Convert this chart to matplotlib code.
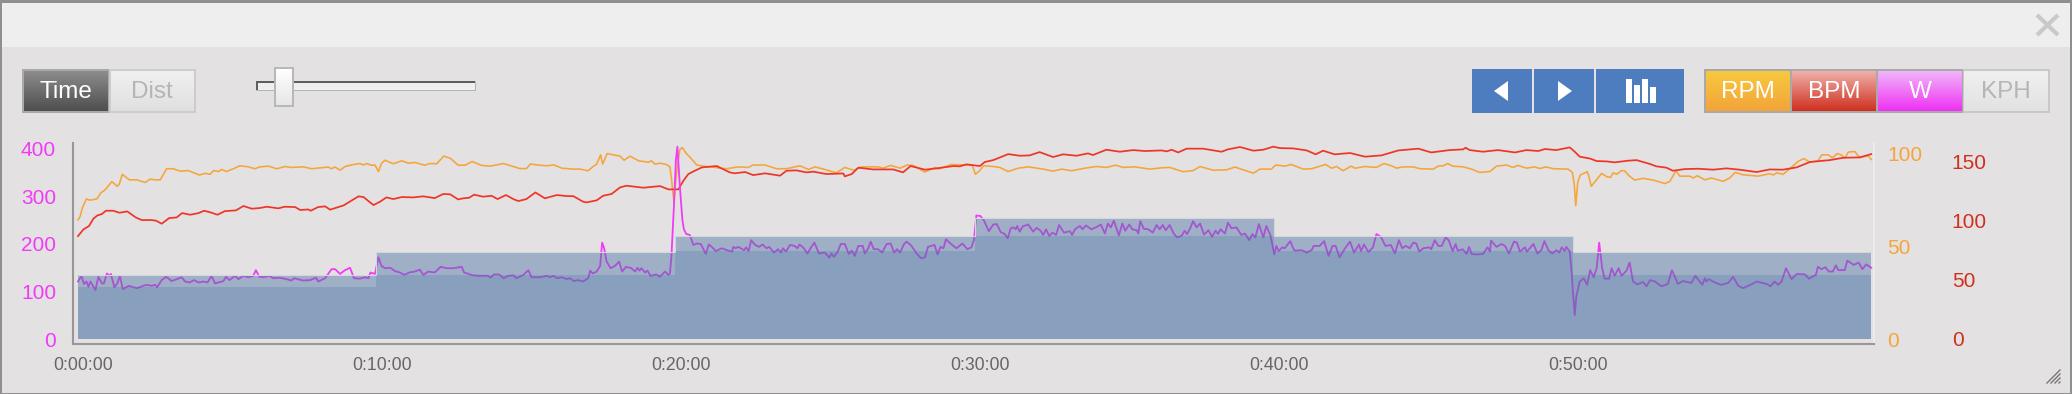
import matplotlib
import matplotlib.pyplot as plt
import numpy as np
from matplotlib.colors import LinearSegmentedColormap
from matplotlib.patches import Polygon, Rectangle
from matplotlib.transforms import ScaledTranslation

matplotlib.use("Agg")

plt.rcParams["font.family"] = ["Liberation Sans", "DejaVu Sans"]

WIDTH = 2072
HEIGHT = 394

# (seconds, value)
WATTS = [
    (0, 121), (7, 133), (12, 116), (17, 121), (21, 110), (25, 121), (35, 103), (41, 131), (48, 117), (52, 117),
    (58, 138), (63, 133), (66, 137), (73, 109), (79, 117), (84, 133), (90, 105), (102, 112), (118, 107), (137, 114),
    (148, 112), (155, 114), (159, 109), (168, 124), (177, 131), (188, 122), (208, 130), (215, 121), (224, 119),
    (233, 124), (242, 119), (252, 121), (260, 119), (268, 133), (275, 117), (292, 122), (297, 131), (304, 124),
    (315, 133), (322, 126), (332, 133), (342, 130), (352, 133), (357, 145), (364, 131), (372, 130), (384, 133),
    (392, 128), (405, 129), (419, 126), (428, 123), (434, 128), (452, 123), (466, 124), (478, 129), (482, 121),
    (496, 128), (509, 147), (516, 147), (526, 137), (536, 145), (546, 150), (554, 128), (566, 127), (576, 130),
    (583, 128), (587, 140), (596, 137), (603, 172), (609, 154), (616, 149), (627, 150), (636, 143), (646, 140),
    (655, 135), (665, 140), (676, 142), (686, 146), (693, 135), (703, 142), (716, 140), (728, 152), (740, 149),
    (753, 149), (770, 152), (775, 140), (793, 134), (807, 133), (823, 133), (828, 129), (835, 136), (845, 136),
    (854, 128), (864, 133), (874, 134), (880, 128), (894, 135), (904, 145), (910, 130), (927, 130), (942, 133),
    (947, 130), (954, 133), (962, 128), (971, 130), (981, 126), (987, 128), (995, 122), (1004, 124), (1014, 121),
    (1024, 128), (1028, 144), (1033, 138), (1041, 142), (1048, 154), (1052, 203), (1056, 191), (1061, 163),
    (1069, 149), (1078, 154), (1086, 163), (1092, 142), (1100, 152), (1111, 149), (1118, 142), (1123, 150),
    (1127, 144), (1131, 149), (1138, 140), (1143, 144), (1149, 133), (1161, 136), (1168, 131), (1178, 142),
    (1185, 135), (1188, 138), (1191, 173), (1196, 279), (1200, 377), (1203, 405), (1208, 321), (1213, 251),
    (1216, 231), (1221, 221), (1228, 219), (1235, 198), (1242, 201), (1250, 200), (1260, 179), (1266, 199),
    (1272, 194), (1280, 185), (1292, 191), (1305, 186), (1313, 184), (1315, 194), (1320, 191), (1325, 194),
    (1337, 187), (1341, 193), (1346, 185), (1351, 208), (1359, 198), (1367, 194), (1374, 199), (1382, 191),
    (1387, 194), (1397, 182), (1405, 189), (1411, 182), (1415, 191), (1421, 184), (1429, 198), (1438, 196),
    (1444, 191), (1448, 199), (1456, 192), (1464, 180), (1472, 194), (1478, 203), (1487, 180), (1499, 182),
    (1508, 171), (1512, 180), (1517, 173), (1524, 182), (1531, 200), (1539, 200), (1547, 179), (1553, 186),
    (1559, 175), (1566, 196), (1575, 196), (1579, 180), (1586, 191), (1591, 205), (1597, 189), (1606, 189),
    (1614, 182), (1623, 200), (1631, 201), (1638, 182), (1644, 189), (1650, 182), (1658, 200), (1663, 205),
    (1673, 196), (1683, 180), (1692, 170), (1700, 172), (1706, 194), (1719, 198), (1725, 178), (1731, 194),
    (1737, 191), (1742, 210), (1751, 201), (1763, 191), (1775, 201), (1785, 189), (1793, 193), (1798, 208),
    (1803, 260), (1811, 259), (1818, 250), (1828, 227), (1837, 241), (1844, 242), (1852, 225), (1860, 221),
    (1866, 212), (1872, 233), (1877, 235), (1882, 231), (1885, 238), (1890, 226), (1896, 237), (1907, 241),
    (1917, 226), (1924, 234), (1932, 228), (1937, 219), (1943, 231), (1949, 217), (1956, 224), (1963, 219),
    (1969, 240), (1979, 224), (1991, 227), (1995, 219), (2001, 231), (2011, 238), (2016, 231), (2023, 239),
    (2034, 231), (2043, 235), (2053, 241), (2061, 222), (2067, 243), (2073, 235), (2079, 249), (2089, 218),
    (2096, 243), (2102, 228), (2110, 241), (2116, 231), (2125, 229), (2128, 222), (2132, 248), (2139, 232),
    (2148, 231), (2157, 224), (2165, 240), (2171, 231), (2177, 240), (2183, 229), (2191, 240), (2199, 222),
    (2206, 214), (2215, 217), (2221, 228), (2226, 221), (2233, 235), (2238, 248), (2245, 235), (2252, 243),
    (2260, 220), (2269, 229), (2276, 215), (2283, 228), (2288, 221), (2293, 231), (2302, 222), (2308, 245),
    (2315, 233), (2325, 235), (2335, 219), (2342, 222), (2351, 208), (2357, 221), (2363, 214), (2370, 242),
    (2379, 214), (2385, 238), (2393, 219), (2401, 178), (2405, 196), (2410, 185), (2417, 193), (2422, 191),
    (2433, 206), (2439, 191), (2442, 186), (2456, 187), (2466, 182), (2476, 187), (2480, 196), (2492, 196),
    (2501, 206), (2510, 175), (2518, 196), (2524, 196), (2532, 172), (2543, 191), (2553, 205), (2561, 182),
    (2571, 199), (2575, 185), (2581, 199), (2590, 183), (2599, 193), (2606, 221), (2615, 215), (2624, 196),
    (2635, 198), (2643, 180), (2651, 208), (2658, 191), (2665, 196), (2673, 191), (2680, 203), (2686, 201),
    (2692, 184), (2700, 191), (2712, 193), (2716, 189), (2723, 208), (2730, 196), (2737, 196), (2745, 214),
    (2751, 208), (2759, 185), (2765, 200), (2769, 186), (2779, 189), (2787, 179), (2792, 194), (2797, 179),
    (2807, 178), (2820, 179), (2829, 193), (2834, 184), (2836, 207), (2847, 194), (2857, 200), (2864, 196),
    (2872, 180), (2882, 205), (2888, 203), (2894, 184), (2904, 193), (2908, 184), (2921, 200), (2929, 180),
    (2937, 187), (2943, 206), (2951, 187), (2959, 180), (2967, 187), (2973, 182), (2978, 193), (2984, 185),
    (2987, 194), (2994, 184), (2998, 138), (3001, 89), (3004, 50), (3007, 89), (3014, 121), (3022, 128),
    (3029, 114), (3035, 145), (3042, 130), (3048, 149), (3053, 203), (3059, 149), (3064, 127), (3073, 127),
    (3078, 149), (3084, 133), (3092, 149), (3098, 133), (3108, 144), (3114, 161), (3121, 121), (3130, 115),
    (3141, 120), (3148, 111), (3155, 124), (3165, 121), (3178, 111), (3191, 116), (3199, 145), (3211, 116),
    (3221, 122), (3238, 118), (3246, 133), (3260, 114), (3265, 128), (3268, 121), (3273, 126), (3285, 119),
    (3298, 114), (3312, 118), (3322, 131), (3332, 112), (3342, 107), (3362, 117), (3369, 121), (3389, 116),
    (3397, 111), (3405, 121), (3412, 114), (3419, 121), (3428, 149), (3439, 126), (3450, 137), (3466, 136),
    (3474, 127), (3488, 135), (3492, 152), (3499, 147), (3507, 151), (3514, 142), (3522, 142), (3528, 155),
    (3533, 145), (3546, 145), (3551, 165), (3564, 156), (3574, 161), (3581, 147), (3589, 157), (3599, 150),
]

CADENCE = [
    (0, 64.4), (4, 66), (9, 71), (17, 75.7), (24, 75), (38, 75.7), (46, 79), (54, 80.5), (68, 85), (79, 82.5),
    (83, 83.7), (89, 89), (103, 86), (118, 86), (135, 84.6), (145, 86.4), (155, 86), (165, 86), (178, 92), (191, 92),
    (205, 90.7), (221, 91), (244, 88.6), (255, 89.5), (265, 89), (272, 91), (282, 90.5), (288, 91.6), (298, 90.5),
    (312, 92), (325, 93.6), (342, 93), (355, 92), (365, 93), (382, 93.4), (399, 92), (416, 93.2), (429, 92.7),
    (452, 93), (469, 92), (502, 92.9), (509, 92), (516, 92.9), (526, 91.2), (536, 93.2), (553, 94.3), (566, 94.8),
    (573, 94), (579, 94.8), (589, 93.9), (596, 94), (603, 90.5), (609, 94.8), (616, 96.6), (633, 94.7), (650, 96.3),
    (663, 95), (676, 95.4), (696, 93.9), (706, 94.8), (720, 94.7), (734, 98.8), (747, 97.7), (763, 93.9), (777, 93.9),
    (791, 95.9), (810, 93.8), (827, 93.4), (844, 94.3), (854, 94.8), (887, 92.1), (900, 92.1), (908, 94.5), (927, 93.9),
    (941, 93.6), (955, 94.1), (971, 92.3), (994, 91.8), (1007, 91.8), (1024, 90.9), (1033, 93), (1041, 94.5),
    (1049, 99.5), (1053, 94.5), (1062, 100.2), (1088, 98.8), (1096, 96.6), (1108, 98.8), (1125, 96.3), (1145, 95.5),
    (1151, 96.3), (1158, 94.5), (1168, 95), (1181, 94.3), (1188, 93), (1191, 87), (1196, 74), (1201, 89), (1208, 102.5),
    (1213, 103.4), (1221, 100.2), (1229, 98), (1242, 94), (1255, 93.4), (1272, 93), (1288, 92.3), (1302, 92),
    (1325, 93), (1345, 92.7), (1355, 94), (1379, 94), (1402, 92), (1422, 92), (1449, 93.6), (1466, 91.6), (1479, 93),
    (1496, 91.8), (1522, 89.8), (1539, 92.7), (1557, 91.2), (1573, 93), (1606, 93), (1616, 92.3), (1631, 93.8),
    (1650, 92.3), (1664, 94), (1676, 93.8), (1700, 90.2), (1720, 92.7), (1727, 91.8), (1753, 94.3), (1783, 94),
    (1795, 93.8), (1801, 89), (1810, 91), (1817, 93.6), (1837, 93.2), (1850, 92.7), (1867, 90.5), (1887, 92.3),
    (1907, 93), (1924, 92.3), (1937, 91.8), (1957, 90.7), (1974, 91.8), (1994, 90.9), (2021, 92.3), (2044, 93.2),
    (2064, 92.7), (2082, 93.9), (2098, 92.7), (2121, 93), (2151, 91.8), (2175, 92.5), (2191, 92.7), (2218, 90.4),
    (2238, 91), (2252, 93.2), (2278, 91.2), (2305, 91.4), (2322, 92.9), (2339, 91.4), (2359, 89.6), (2372, 91.8),
    (2395, 91.8), (2404, 94), (2422, 93.4), (2435, 94.3), (2459, 91.8), (2476, 92), (2504, 94.3), (2516, 92.3),
    (2526, 93.2), (2539, 90.9), (2555, 93.4), (2563, 92.3), (2583, 93.2), (2606, 92.7), (2621, 94.8), (2636, 93.6),
    (2646, 92.3), (2660, 93), (2680, 93), (2693, 92), (2720, 91.8), (2730, 93.4), (2740, 93.6), (2749, 94.8),
    (2759, 93.4), (2780, 93), (2797, 91.8), (2813, 90), (2834, 90.5), (2847, 93.4), (2867, 94), (2880, 92.7),
    (2890, 93.8), (2907, 92.3), (2924, 93), (2934, 92.1), (2946, 93), (2961, 92), (2991, 91.8), (2999, 90),
    (3003, 83.7), (3006, 72), (3010, 84.6), (3015, 88.6), (3029, 90.4), (3033, 87.3), (3037, 82.5), (3058, 89.5),
    (3068, 87.7), (3076, 87.3), (3081, 89.8), (3088, 89), (3098, 91), (3104, 90.9), (3113, 88.2), (3124, 85.9),
    (3141, 86.8), (3161, 85.9), (3185, 84), (3195, 85.2), (3207, 90.9), (3215, 88), (3235, 88), (3242, 87),
    (3250, 88.2), (3265, 86), (3278, 87), (3302, 85.2), (3315, 87), (3326, 90), (3342, 88.7), (3372, 88),
    (3395, 89.3), (3403, 88.6), (3409, 89.8), (3422, 89), (3435, 91.8), (3452, 95.9), (3464, 97.5), (3476, 95.5),
    (3492, 96.3), (3500, 99.5), (3513, 99.5), (3521, 97.9), (3531, 100.2), (3539, 99.5), (3546, 97.7), (3553, 101),
    (3566, 101.3), (3576, 98), (3593, 99), (3599, 97),
]

HEART_RATE = [
    (0, 87.2), (11, 92.9), (22, 95.7), (31, 102), (39, 104.7), (48, 105.9), (56, 108.7), (71, 108.7), (83, 107),
    (99, 108.1), (116, 103), (128, 100.8), (148, 100.8), (157, 100.2), (168, 97.7), (183, 102.5), (198, 103),
    (209, 106.7), (225, 105.3), (242, 106.7), (253, 108.7), (266, 107.3), (280, 105.3), (295, 108.4), (317, 109),
    (332, 112.7), (349, 110.4), (365, 111), (379, 112.1), (402, 110.7), (415, 112.1), (436, 111.8), (446, 109.3),
    (462, 109.8), (467, 108.7), (482, 111.8), (496, 112.4), (506, 109.6), (519, 111.3), (533, 113.2), (563, 120.9),
    (573, 120.3), (593, 113.5), (606, 116.3), (619, 120), (633, 118.6), (650, 120.3), (673, 120), (693, 120.9),
    (716, 119.4), (733, 122.9), (747, 122.6), (763, 118.3), (773, 119.2), (785, 119.7), (795, 122.3), (813, 120.6),
    (830, 121.4), (842, 118.6), (859, 122), (875, 118.3), (884, 116.9), (900, 118.6), (918, 124.2), (937, 119.2),
    (961, 122), (981, 121.1), (994, 121.1), (1014, 116.3), (1021, 115.8), (1041, 117.5), (1054, 121.4), (1071, 122.9),
    (1088, 128.5), (1101, 129.9), (1135, 128.2), (1168, 129.6), (1185, 126.8), (1205, 126.8), (1215, 134.1),
    (1225, 139.8), (1238, 142.6), (1252, 145.4), (1282, 146.6), (1308, 141.2), (1318, 140.4), (1339, 141.5),
    (1355, 138.9), (1379, 140.4), (1409, 138.4), (1422, 142.6), (1442, 142.9), (1462, 141.2), (1476, 141.8),
    (1502, 139.8), (1536, 140.3), (1539, 137.8), (1553, 139.8), (1566, 145.2), (1596, 143.7), (1636, 143.7),
    (1656, 141.2), (1671, 146.6), (1700, 143.5), (1723, 144.6), (1757, 146.6), (1770, 146.3), (1783, 148),
    (1810, 146.6), (1820, 150), (1837, 151.6), (1867, 156.7), (1890, 155.3), (1910, 155.6), (1930, 158.4),
    (1957, 154.2), (1977, 156.5), (2004, 155.3), (2027, 157.3), (2037, 155.9), (2064, 160.4), (2091, 158.7),
    (2118, 160.1), (2141, 159.3), (2175, 159.8), (2185, 159), (2195, 160.4), (2208, 158.1), (2225, 161.3),
    (2258, 161.3), (2295, 158.7), (2308, 160.7), (2332, 162.7), (2359, 159.6), (2379, 160.4), (2399, 163),
    (2412, 161.8), (2439, 161.5), (2466, 159.8), (2484, 156.5), (2499, 159.6), (2522, 156.5), (2553, 157.6),
    (2583, 154.5), (2616, 155.6), (2650, 159.8), (2690, 161.3), (2716, 158.1), (2753, 160.1), (2780, 160.7),
    (2785, 162.1), (2793, 160.1), (2820, 158.7), (2850, 160.1), (2884, 158.1), (2907, 160.1), (2931, 159.3),
    (2944, 161), (2967, 160.1), (2994, 162.4), (3004, 158.7), (3014, 154.5), (3034, 153), (3048, 150.8),
    (3068, 150.5), (3084, 149.7), (3111, 151.1), (3128, 151.6), (3155, 148.3), (3168, 146.3), (3188, 145.2),
    (3201, 142.6), (3225, 144), (3252, 144.3), (3282, 143.5), (3308, 144.6), (3335, 143.5), (3369, 141.5),
    (3395, 143.7), (3422, 143.5), (3449, 145.4), (3476, 150), (3516, 151.6), (3543, 153.6), (3576, 153.9),
    (3599, 156.7),
]

# planned power blocks, high and low edge of each
STEP_EDGES = [0, 598, 1198, 1800, 2400, 3000, 3598]
POWER_HIGH = [134, 184, 217, 254, 217, 184]
POWER_LOW = [109, 135, 185, 217, 185, 135]

TIME_TICKS = [0, 600, 1200, 1800, 2400, 3000]
TIME_LABELS = ["0:00:00", "0:10:00", "0:20:00", "0:30:00", "0:40:00", "0:50:00"]
WATT_TICKS = [0, 100, 200, 300, 400]
RPM_TICKS = [0, 50, 100]
BPM_TICKS = [0, 50, 100, 150]

BACKGROUND = "#e3e1e2"
BLUE = "#4d7dbf"
MAGENTA = "#f03cf6"
ORANGE = "#f5a53a"
RED = "#ee3528"
AREA = "#4a74a4"


def gradient_box(ax, x0, y0, x1, y1, top, bottom):
    cmap = LinearSegmentedColormap.from_list("box", [top, bottom])
    ax.imshow(np.linspace(0, 1, 64).reshape(-1, 1), cmap=cmap, extent=(x0, x1, y1, y0), aspect="auto", zorder=3)


def box(ax, x0, y0, x1, y1, color, zorder=2):
    ax.add_patch(Rectangle((x0, y0), x1 - x0, y1 - y0, facecolor=color, edgecolor="none", zorder=zorder))


def label(ax, x, y, text, color):
    ax.text(x, y, text, color=color, fontsize=17.5, ha="center", va="center", zorder=5)


def draw_chrome(ax):
    box(ax, 0, 0, WIDTH, HEIGHT, "#8f8f8f", zorder=0)
    box(ax, 2, 3, WIDTH - 2, HEIGHT - 1, BACKGROUND, zorder=1)
    box(ax, 2, 3, WIDTH - 2, 47, "#eeeeee")

    # close cross and resize grip
    ax.plot([2037, 2058], [15, 35], color="#c9c9c9", lw=3, solid_capstyle="butt", zorder=3)
    ax.plot([2037, 2058], [35, 15], color="#c9c9c9", lw=3, solid_capstyle="butt", zorder=3)
    for step in range(4):
        ax.plot([2047 + step * 4, 2060], [383, 370 + step * 4], color="#777777", lw=1, zorder=3)

    # time / distance toggle
    box(ax, 22, 69, 109, 113, "#a9a9a9")
    box(ax, 109, 69, 196, 113, "#cccccc")
    gradient_box(ax, 24, 71, 108, 111, "#8c8c8c", "#4f4f4f")
    gradient_box(ax, 111, 71, 194, 111, "#f0f0f0", "#e0e0e0")
    label(ax, 66, 91.5, "Time", "white")
    label(ax, 152, 91.5, "Dist", "#b5b5b5")

    # zoom slider
    box(ax, 256, 81, 476, 91, "#b4b4b4")
    box(ax, 256, 81, 475, 89.5, "#5f5f5f")
    box(ax, 257.5, 82.5, 474.5, 89.5, "#eef0f0", zorder=3)
    box(ax, 274, 67, 294, 107, "#b8b8b8", zorder=3)
    gradient_box(ax, 276, 69, 292, 105, "#ffffff", "#e6e6e6")
    ax.images[-1].set_zorder(4)

    # navigation buttons
    box(ax, 1472, 69, 1532, 113, BLUE)
    box(ax, 1534, 69, 1594, 113, BLUE)
    box(ax, 1596, 69, 1684, 113, BLUE)
    ax.add_patch(Polygon([(1494, 91), (1508, 81), (1508, 101)], facecolor="white", edgecolor="none", zorder=3))
    ax.add_patch(Polygon([(1572, 91), (1558, 81), (1558, 101)], facecolor="white", edgecolor="none", zorder=3))
    for x0, x1, top in [(1626, 1632, 79), (1634, 1640, 85), (1642, 1648, 79), (1650, 1656, 87)]:
        box(ax, x0, top, x1, 103, "white", zorder=3)

    # series toggles
    box(ax, 1704, 69, 1963, 113, "#a9a9a9")
    box(ax, 1963, 69, 2050, 113, "#c8c8c8")
    gradient_box(ax, 1706, 71, 1790, 111, "#f7c93f", "#f3a43a")
    gradient_box(ax, 1792, 71, 1876, 111, "#eeb0aa", "#d0301f")
    gradient_box(ax, 1878, 71, 1962, 111, "#f1b5fa", "#ee32f3")
    gradient_box(ax, 1964, 71, 2048, 111, "#f0f0f0", "#e2e2e2")
    label(ax, 1748, 91.5, "RPM", "white")
    label(ax, 1834, 91.5, "BPM", "white")
    label(ax, 1920, 91.5, "W", "white")
    label(ax, 2006, 91.5, "KPH", "#b5b5b5")

    ax.set_xlim(0, WIDTH)
    ax.set_ylim(HEIGHT, 0)
    ax.axis("off")


def style_value_axis(ax, ticks, color, pad, side):
    ax.set_yticks(ticks)
    ax.tick_params(axis="y", length=0, pad=pad, labelsize=15, labelcolor=color)
    if side == "right":
        ax.yaxis.tick_right()
    for spine in ax.spines.values():
        spine.set_visible(False)


def draw_chart(fig):
    left = 73
    right = 1874
    top = 143
    bottom = 344
    position = [left / WIDTH, 1 - bottom / HEIGHT, (right - left) / WIDTH, (bottom - top) / HEIGHT]

    ax_watts = fig.add_axes(position, zorder=5)
    ax_rpm = ax_watts.twinx()
    ax_bpm = ax_watts.twinx()
    ax_rpm.set_zorder(3)
    ax_bpm.set_zorder(4)
    for ax in (ax_watts, ax_rpm, ax_bpm):
        ax.patch.set_visible(False)

    rpm_t, rpm_v = np.array(CADENCE).T
    bpm_t, bpm_v = np.array(HEART_RATE).T
    watt_t, watt_v = np.array(WATTS).T

    ax_rpm.plot(rpm_t, rpm_v, color=ORANGE, lw=1.15)
    ax_bpm.plot(bpm_t, bpm_v, color=RED, lw=1.25)

    # the blocks sit over the power line, that is what turns it purple
    ax_watts.plot(watt_t, watt_v, color=MAGENTA, lw=1.3, zorder=1)
    ax_watts.stairs(POWER_HIGH, STEP_EDGES, fill=True, baseline=0, color=AREA, alpha=0.45, lw=0, zorder=2)
    ax_watts.stairs(POWER_LOW, STEP_EDGES, fill=True, baseline=0, color=AREA, alpha=0.25, lw=0, zorder=3)
    ax_watts.stairs(POWER_HIGH, STEP_EDGES, baseline=None, color="#d3d7dd", lw=0.8, zorder=4)

    ax_watts.set_xlim(-10, 3604.6)
    ax_watts.set_ylim(-10.5, 412.6)
    ax_rpm.set_ylim(-2.69, 105.9)
    ax_bpm.set_ylim(-4.24, 166.1)

    style_value_axis(ax_watts, WATT_TICKS, MAGENTA, 12.2, "left")
    style_value_axis(ax_rpm, RPM_TICKS, ORANGE, 9.4, "right")
    style_value_axis(ax_bpm, BPM_TICKS, "#d0301f", 56, "right")

    ax_watts.spines["left"].set_visible(True)
    ax_watts.spines["bottom"].set_visible(True)
    ax_watts.spines["right"].set_visible(True)
    ax_watts.spines["left"].set(color="#989697", linewidth=1.5)
    ax_watts.spines["bottom"].set(color="#989697", linewidth=1.5)
    ax_watts.spines["right"].set(color="#ebebec", linewidth=1.5)

    ax_watts.set_xticks(TIME_TICKS, labels=TIME_LABELS)
    ax_watts.tick_params(axis="x", length=0, pad=9.5, labelsize=12.7, labelcolor="#666666")
    shift = ScaledTranslation(5.5 / 100, 0, fig.dpi_scale_trans)
    for tick_label in ax_watts.get_xticklabels():
        tick_label.set_transform(tick_label.get_transform() + shift)


def main():
    fig = plt.figure(figsize=(WIDTH / 100, HEIGHT / 100), dpi=100)
    chrome = fig.add_axes([0, 0, 1, 1], zorder=0)
    draw_chrome(chrome)
    draw_chart(fig)
    fig.savefig("out.png", dpi=100)
    plt.close(fig)


if __name__ == "__main__":
    main()
